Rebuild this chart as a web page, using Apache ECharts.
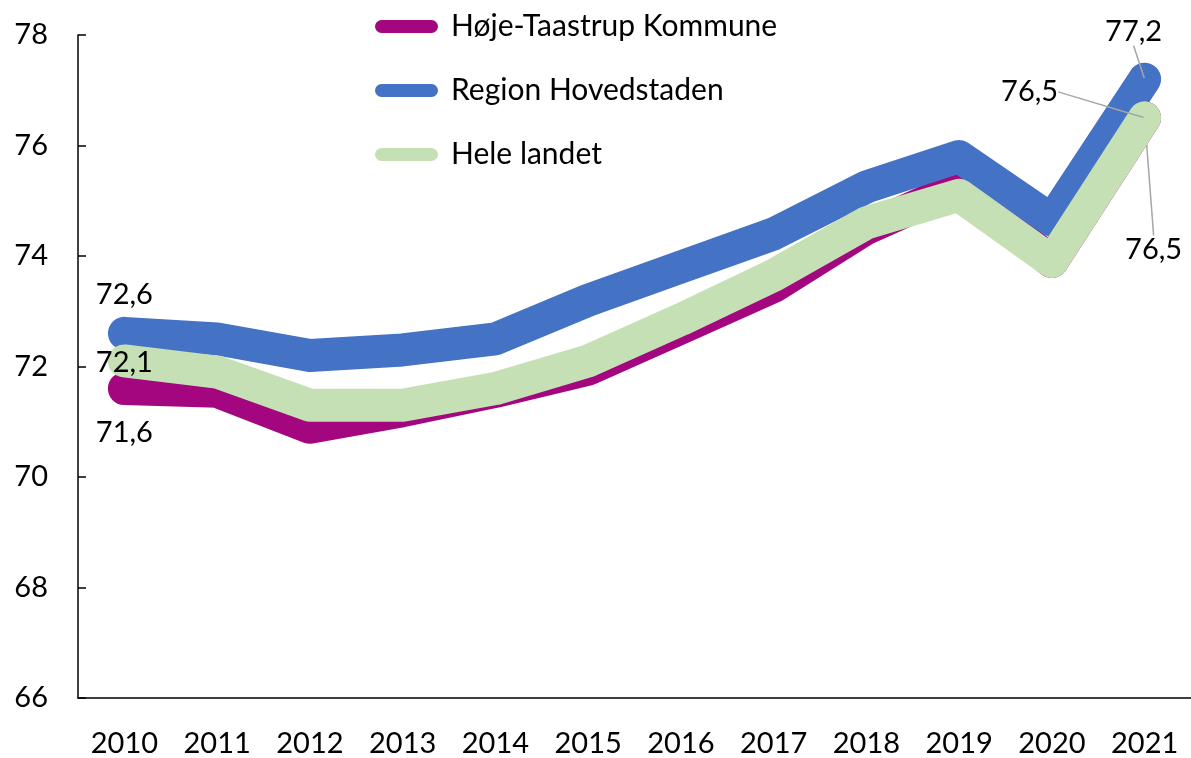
<!DOCTYPE html>
<html>
<head>
<meta charset="utf-8">
<script src="https://cdn.jsdelivr.net/npm/echarts@6/dist/echarts.min.js"></script>
<style>
  html, body { margin: 0; padding: 0; background: #fff; }
  #chart { width: 1191px; height: 758px; }
</style>
</head>
<body>
<div id="chart"></div>
<script>
// chart data
const years = ['2010', '2011', '2012', '2013', '2014', '2015', '2016', '2017', '2018', '2019', '2020', '2021'];
const seriesNames = ['Høje-Taastrup Kommune', 'Region Hovedstaden', 'Hele landet'];
const hoejeTaastrup = [71.6, 71.55, 70.9, 71.2, 71.55, 71.95, 72.7, 73.45, 74.5, 75.25, 73.9, 76.5];
const regionHovedstaden = [72.6, 72.5, 72.2, 72.3, 72.5, 73.2, 73.8, 74.4, 75.25, 75.8, 74.65, 77.2];
const heleLandet = [72.1, 71.9, 71.3, 71.3, 71.6, 72.1, 72.85, 73.65, 74.6, 75.1, 73.9, 76.5];
const yTicks = [66, 68, 70, 72, 74, 76, 78];

const colors = ['#A3067F', '#4472C4', '#C5E0B4'];
const fontFamily = 'Lato, "Open Sans", sans-serif';

// label offsets (first / last point) per series
const labelShift = [
  { first: [0, 44], last: [9, 132] },
  { first: [0, -39], last: [-11, -48] },
  { first: [0, 2], last: [-115, -26] }
];

const fmt = v => v.toFixed(1).replace('.', ',');

function buildData(values) {
  const last = values.length - 1;
  return values.map((v, i) => ({
    value: v,
    label: { show: i === 0 || i === last },
    labelLine: { show: i === last }
  }));
}

function makeSeries(name, values, idx) {
  return {
    name: name,
    type: 'line',
    data: buildData(values),
    symbol: 'circle',
    symbolSize: 2,
    showSymbol: true,
    z: 2 + idx,
    itemStyle: { color: colors[idx] },
    lineStyle: { width: 33, color: colors[idx], cap: 'round', join: 'round' },
    emphasis: { disabled: true },
    label: {
      position: 'inside',
      color: '#000',
      fontFamily: fontFamily,
      fontSize: 29,
      formatter: p => fmt(p.value)
    },
    labelLine: {
      lineStyle: { color: '#A6A6A6', width: 1.5 }
    },
    labelLayout: p => {
      const s = labelShift[idx];
      const off = p.dataIndex === 0 ? s.first : s.last;
      return { dx: off[0], dy: off[1] };
    }
  };
}

const chart = echarts.init(document.getElementById('chart'));

const legendIcon = 'path://M6.5,0H56.5A6.5,6.5,0,0,1,56.5,13H6.5A6.5,6.5,0,0,1,6.5,0Z';

chart.setOption({
  animation: false,
  backgroundColor: '#fff',
  legend: {
    orient: 'vertical',
    left: 370,
    top: 4,
    itemWidth: 63,
    itemHeight: 13,
    itemGap: 29,
    selectedMode: false,
    data: seriesNames.map(n => ({ name: n, icon: legendIcon })),
    textStyle: {
      color: '#000',
      fontFamily: fontFamily,
      fontSize: 30,
      lineHeight: 35,
      padding: [0, 0, 0, 8]
    }
  },
  grid: { left: 78, right: -5, top: 35, bottom: 59, containLabel: false },
  xAxis: {
    type: 'category',
    data: years,
    boundaryGap: true,
    axisLine: { lineStyle: { color: '#000', width: 1.5 } },
    axisTick: { inside: true, length: 9, lineStyle: { color: '#000', width: 1.5 } },
    axisLabel: { color: '#000', fontFamily: fontFamily, fontSize: 29, margin: 31 },
    splitLine: { show: false }
  },
  yAxis: {
    type: 'value',
    min: yTicks[0],
    max: yTicks[yTicks.length - 1],
    interval: 2,
    axisLine: { show: true, lineStyle: { color: '#000', width: 1.5 } },
    axisTick: { show: true, inside: true, length: 8, lineStyle: { color: '#000', width: 1.5 } },
    axisLabel: { color: '#000', fontFamily: fontFamily, fontSize: 29, margin: 30 },
    splitLine: { show: false }
  },
  series: [
    makeSeries(seriesNames[0], hoejeTaastrup, 0),
    makeSeries(seriesNames[1], regionHovedstaden, 1),
    makeSeries(seriesNames[2], heleLandet, 2)
  ]
});
</script>
</body>
</html>
